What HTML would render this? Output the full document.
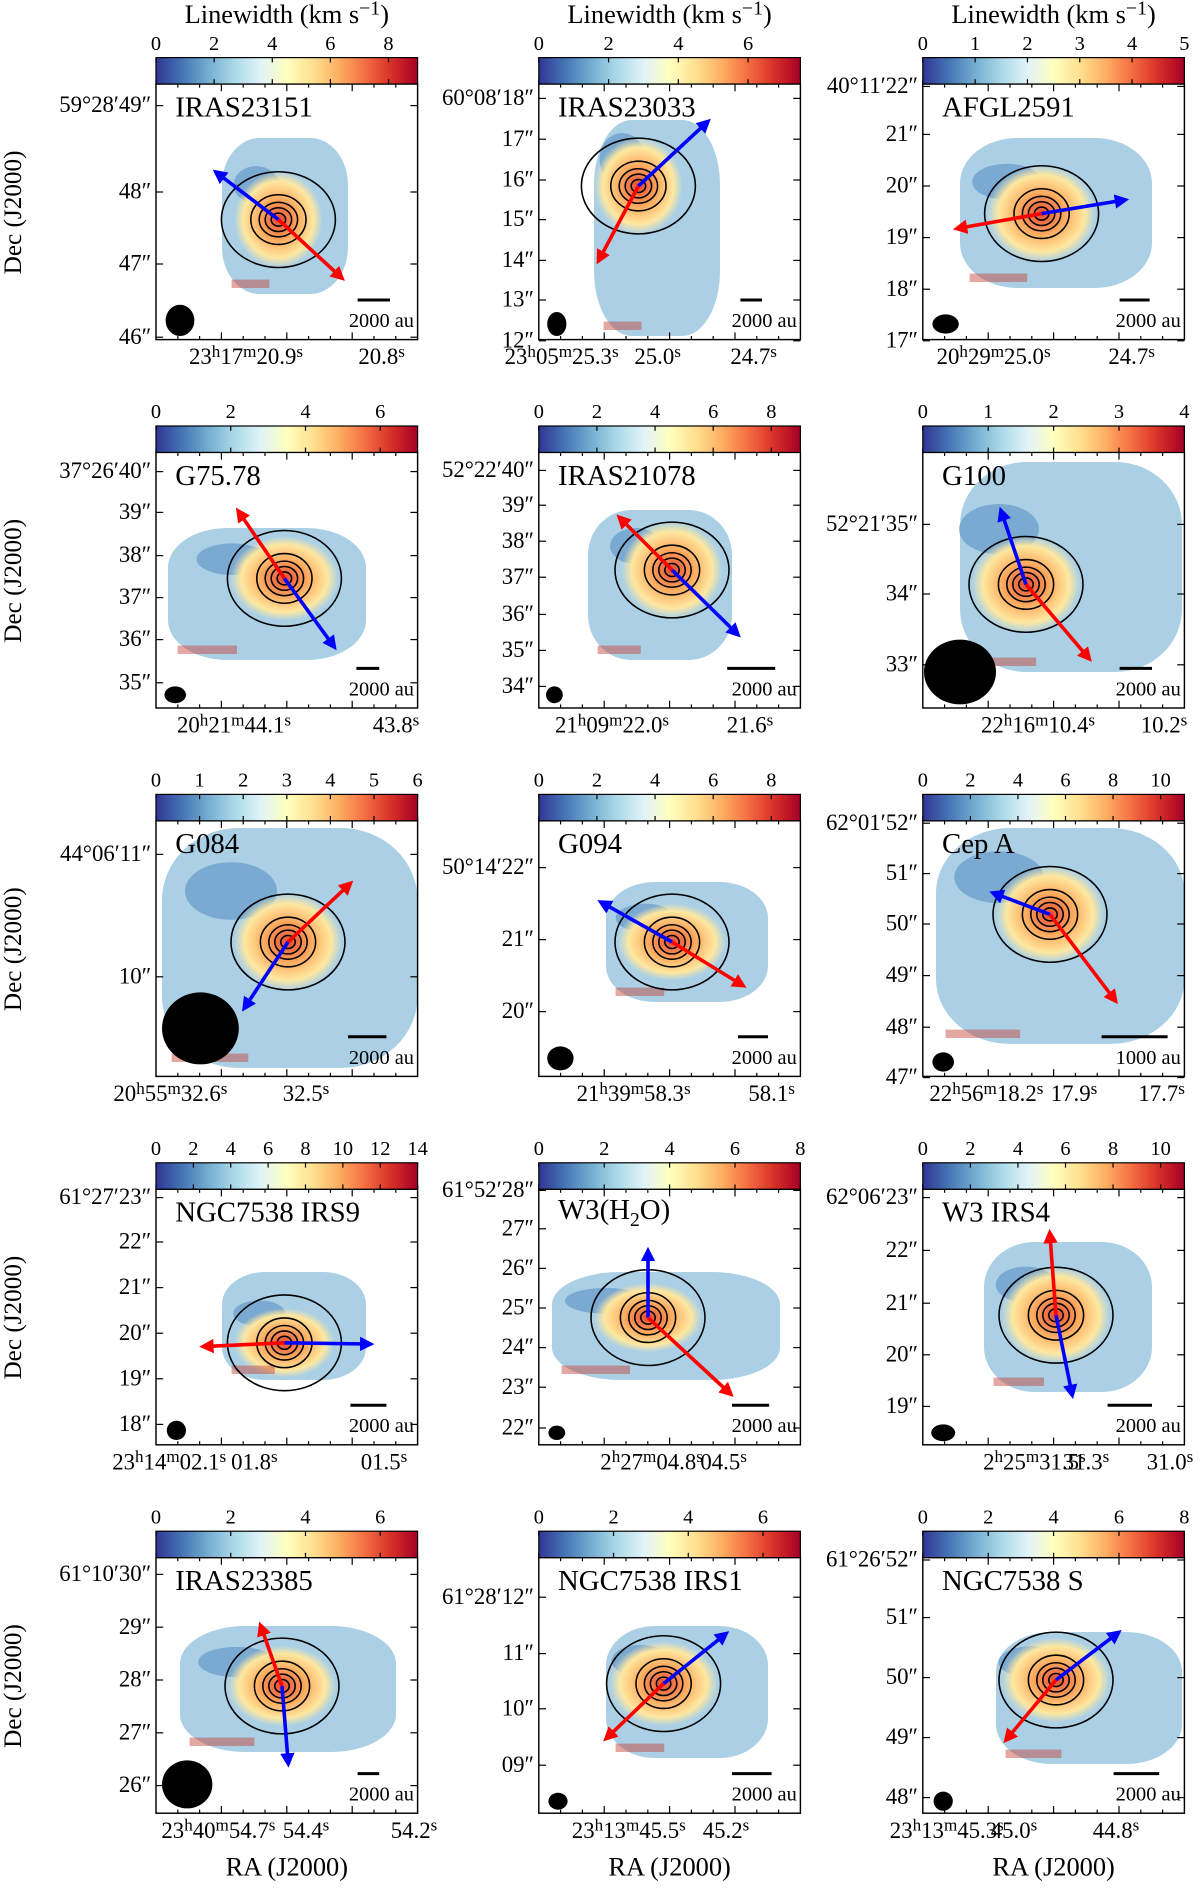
<!DOCTYPE html>
<html><head><meta charset="utf-8">
<style>
html,body{margin:0;padding:0;background:#fff;}
#wrap{position:relative;width:1000px;height:1575px;transform:scale(1.2);transform-origin:0 0;font-family:"Liberation Serif",serif;color:#000;overflow:hidden;}
.t{position:absolute;white-space:nowrap;line-height:1;}
sup{font-size:75%;vertical-align:0;position:relative;top:-0.45em;}
</style></head>
<body>
<div id="wrap">
<svg id="svg" width="1000" height="1575" style="position:absolute;left:0;top:0">
<defs>
<linearGradient id="cmap" x1="0" x2="1" y1="0" y2="0">
<stop offset="0" stop-color="#313695"/><stop offset="0.1" stop-color="#4575b4"/><stop offset="0.2" stop-color="#74add1"/><stop offset="0.3" stop-color="#abd9e9"/><stop offset="0.4" stop-color="#e0f3f8"/><stop offset="0.5" stop-color="#ffffbf"/><stop offset="0.6" stop-color="#fee090"/><stop offset="0.7" stop-color="#fdae61"/><stop offset="0.8" stop-color="#f46d43"/><stop offset="0.9" stop-color="#d73027"/><stop offset="1" stop-color="#a50026"/>
</linearGradient>
<radialGradient id="warm"><stop offset="0" stop-color="#e34a33"/><stop offset="0.45" stop-color="#fdae61"/><stop offset="0.8" stop-color="#fee8a0"/><stop offset="1" stop-color="#fee8a0" stop-opacity="0"/></radialGradient>
<marker id="ab" markerWidth="4" markerHeight="4" refX="2" refY="2" orient="auto" markerUnits="strokeWidth"><path d="M0,0 L4,2 L0,4 z" fill="#0000ff"/></marker>
<marker id="ar" markerWidth="4" markerHeight="4" refX="2" refY="2" orient="auto" markerUnits="strokeWidth"><path d="M0,0 L4,2 L0,4 z" fill="#ff0000"/></marker>
</defs>
</svg>
</div>
<script>
// chart data arrays
const names=['IRAS23151','IRAS23033','AFGL2591','G75.78','IRAS21078','G100','G084','G094','Cep A','NGC7538 IRS9','W3(H<sub style="font-size:68%">2</sub>O)','W3 IRS4','IRAS23385','NGC7538 IRS1','NGC7538 S'];
const cbMax=[9,7.5,5,7,9,4,6,9,11,14,8,11,7,7,8];
const cbStep=[2,2,1,2,2,1,1,2,2,2,2,2,2,2,2];
const decLabels=[
[['59°28′49″',88],['48″',160],['47″',220],['46″',281]],
[['60°08′18″',82],['17″',116],['16″',150],['15″',183],['14″',217],['13″',250],['12″',284]],
[['40°11′22″',72],['21″',112],['20″',155],['19″',198],['18″',241],['17″',284]],
[['37°26′40″',393],['39″',427],['38″',463],['37″',498],['36″',533],['35″',569]],
[['52°22′40″',392],['39″',421],['38″',451],['37″',481],['36″',512],['35″',542],['34″',572]],
[['52°21′35″',437],['34″',495],['33″',554]],
[['44°06′11″',712],['10″',814]],
[['50°14′22″',723],['21″',783],['20″',843]],
[['62°01′52″',686],['51″',728],['50″',770],['49″',813],['48″',856],['47″',898]],
[['61°27′23″',998],['22″',1035],['21″',1073],['20″',1111],['19″',1149],['18″',1187]],
[['61°52′28″',992],['27″',1024],['26″',1057],['25″',1090],['24″',1123],['23″',1156],['22″',1190]],
[['62°06′23″',998],['22″',1042],['21″',1086],['20″',1129],['19″',1172]],
[['61°10′30″',1312],['29″',1356],['28″',1400],['27″',1444],['26″',1488]],
[['61°28′12″',1331],['11″',1378],['10″',1424],['09″',1471]],
[['61°26′52″',1300],['51″',1348],['50″',1398],['49″',1448],['48″',1498]]
];
const raLabels=[
[[205,'23h17m20.9s'],[318,'20.8s']],
[[468,'23h05m25.3s'],[548,'25.0s'],[628,'24.7s']],
[[828,'20h29m25.0s'],[943,'24.7s']],
[[195,'20h21m44.1s'],[330,'43.8s']],
[[510,'21h09m22.0s'],[625,'21.6s']],
[[865,'22h16m10.4s'],[970,'10.2s']],
[[142,'20h55m32.6s'],[255,'32.5s']],
[[528,'21h39m58.3s'],[643,'58.1s']],
[[822,'22h56m18.2s'],[895,'17.9s'],[968,'17.7s']],
[[141,'23h14m02.1s'],[212,'01.8s'],[320,'01.5s']],
[[543,'2h27m04.8s'],[603,'04.5s']],
[[862,'2h25m31.5s'],[905,'31.3s'],[975,'31.0s']],
[[182,'23h40m54.7s'],[255,'54.4s'],[345,'54.2s']],
[[524,'23h13m45.5s'],[605,'45.2s']],
[[789,'23h13m45.3s'],[845,'45.0s'],[930,'44.8s']]
];
const mapBox=[[55,45,160,175],[46,30,151,210],[31,45,191,170],[10,63,175,173],[41,48,161,173],[31,8,216,183],[5,6,218,206],[56,51,191,151],[11,6,218,186],[55,69,175,159],[11,69,201,159],[51,44,191,169],[20,57,200,162],[56,57,191,167],[61,62,216,172]];
const core=[[102,113],[83,85],[99,108],[107,105],[111,98],[86,110],[110,101],[111,101],[106,78],[107,128],[91,107],[111,105],[105,107],[104,105],[111,102]];
const arrowsB=[[52,75],[139,33],[166,97],[147,160],[164,150],[66,51],[75,154],[54,69],[61,61],[176,129],[91,54],[124,169],[110,169],[154,65],[161,64]];
const arrowsR=[[153,160],[51,145],[31,120],[70,51],[69,56],[137,170],[160,54],[168,136],[159,148],[42,131],[158,169],[106,39],[88,59],[58,149],[71,150]];
const beams=[[20,197,12,13],[15,200,8,10],[19,200,11,8],[16,202,9,7],[13,202,7,7],[31,183,30,27],[37,173,32,30],[18,198,11,10],[17,201,9,8],[17,201,8,8],[15,203,7,6],[17,203,10,7],[26,189,21,20],[16,203,8,7],[17,203,8,8]];
const sbars=[[168,195],[168,186],[164,189],[167,186],[157,197],[164,191],[160,192],[166,191],[149,204],[162,192],[161,192],[154,191],[168,186],[161,194],[159,197]];
const colX=[130,449,769];
const W=218,H=213;
const svg=document.getElementById('svg'),wrap=document.getElementById('wrap');
const NS='http://www.w3.org/2000/svg';
function el(tag,attrs,parent){const e=document.createElementNS(NS,tag);for(const k in attrs)e.setAttribute(k,attrs[k]);(parent||svg).appendChild(e);return e;}
function txt(html,x,y,size,align){const d=document.createElement('div');d.className='t';d.innerHTML=html;d.style.fontSize=size+'px';d.style.left=x+'px';d.style.top=y+'px';
 if(align==='c')d.style.transform='translate(-50%,-50%)';else if(align==='r')d.style.transform='translate(-100%,-50%)';else if(align==='l')d.style.transform='translate(0,-50%)';wrap.appendChild(d);return d;}
function sup(s){return s.replace(/(\d+)h/,'$1<sup>h</sup>').replace(/(\d+)m/,'$1<sup>m</sup>').replace(/s$/,'<sup>s</sup>');}
for(let i=0;i<15;i++){
 const r=Math.floor(i/3),c=i%3;const X=colX[c];const cbT=48+r*307;const Y=cbT+22;
 const g=el('g',{transform:`translate(${X},${Y})`});
 
 
 const cb=el('rect',{x:X,y:cbT,width:W,height:22,fill:'url(#cmap)',stroke:'#000','stroke-width':1});
 
 
 for(let v=0;v<=cbMax[i]+1e-6;v+=cbStep[i]){const x=X+v/cbMax[i]*W;
  el('line',{x1:x,x2:x,y1:cbT,y2:cbT+4,stroke:'#000','stroke-width':1});el('line',{x1:x,x2:x,y1:cbT+18,y2:cbT+22,stroke:'#000','stroke-width':1});
  const t=txt(String(v),x,cbT-12,17,'c');}
 const b=mapBox[i],cc=core[i];
 const m=el('rect',{x:b[0],y:b[1],width:b[2]-b[0],height:b[3]-b[1],rx:(b[2]-b[0])*0.3,ry:(b[3]-b[1])*0.3,fill:'#9cc8e0',opacity:0.85},g);
 
 
 el('ellipse',{cx:(b[0]+cc[0])/2+5,cy:(b[1]+cc[1])/2+5,rx:(b[2]-b[0])*0.18,ry:(b[3]-b[1])*0.12,fill:'#5a8fc4',opacity:0.6},g);
 el('ellipse',{cx:cc[0],cy:cc[1],rx:Math.min(45,(b[2]-b[0])*0.35),ry:Math.min(40,(b[3]-b[1])*0.32),fill:'url(#warm)'},g);
 el('rect',{x:b[0]+8,y:b[3]-12,width:(b[2]-b[0])*0.3,height:7,fill:'#c43c2f',opacity:0.45},g);
 [6,11,16,23,38].forEach((rr,k)=>{const e=el('ellipse',{cx:cc[0],cy:cc[1],rx:rr*(k==4?1.25:1),ry:rr*(k==4?1.05:0.9),fill:'none',stroke:'#000','stroke-width':1.3},g);});
 const ab=arrowsB[i],ar=arrowsR[i];
 const l1=el('line',{x1:cc[0],y1:cc[1],x2:ab[0],y2:ab[1],stroke:'#0000ff','stroke-width':3,'marker-end':'url(#ab)'},g);
 
 const l2=el('line',{x1:cc[0],y1:cc[1],x2:ar[0],y2:ar[1],stroke:'#ff0000','stroke-width':3,'marker-end':'url(#ar)'},g);
 
 const be=beams[i];const bm=el('ellipse',{cx:be[0],cy:be[1],rx:be[2],ry:be[3],fill:'#000'},g);
 
 const sb=sbars[i];el('line',{x1:sb[0],x2:sb[1],y1:180,y2:180,stroke:'#000','stroke-width':2.5},g);
 el('rect',{x:0,y:0,width:W,height:H,fill:'none',stroke:'#000','stroke-width':1.2},g);
 decLabels[i].forEach(d=>{const y=d[1]-Y;el('line',{x1:0,x2:6,y1:y,y2:y,stroke:'#000'},g);el('line',{x1:W-6,x2:W,y1:y,y2:y,stroke:'#000'},g);
  const t=txt(d[0],X-4,d[1],19,'r');});
 for(let k=1;k<12;k++){const x=k*W/12;el('line',{x1:x,x2:x,y1:0,y2:k%3?3:6,stroke:'#000'},g);el('line',{x1:x,x2:x,y1:H-(k%3?3:6),y2:H,stroke:'#000'},g);}
 raLabels[i].forEach(a=>{const t=txt(sup(a[1]),a[0],Y+H+15,19,'c');});
 const nm=txt(names[i],X+16,Y+20,24,'l');
 const sl=txt(i===8?'1000 au':'2000 au',X+W-3,Y+197,17,'r');
 if(c===0){const d=txt('Dec (J2000)',11,Y+H/2,21,'c');d.style.transform='translate(-50%,-50%) rotate(-90deg)';}
 if(r===0){const t=txt('Linewidth (km s<sup>−1</sup>)',X+W/2,12,22,'c');}
 if(r===4){const t=txt('RA (J2000)',X+W/2,1556,22,'c');}
}
</script>
</body></html>
